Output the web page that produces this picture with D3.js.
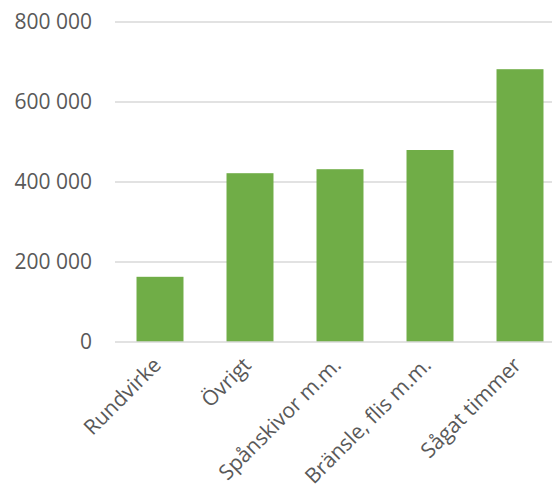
<!DOCTYPE html>
<html>
<head>
<meta charset="utf-8">
<script src="https://cdn.jsdelivr.net/npm/d3@7"></script>
<style>
  html, body { margin: 0; padding: 0; background: #fff; }
  svg { display: block; }
  text { font-family: "Open Sans", "Noto Sans", sans-serif; fill: #595959; }
</style>
</head>
<body>
<svg id="chart" width="552" height="492"></svg>
<script>
// Volumes per product category
const categories = ["Rundvirke", "Övrigt", "Spånskivor m.m.", "Bränsle, flis m.m.", "Sågat timmer"];
const values = [163000, 422000, 432000, 480000, 682000];
const yTicks = [0, 200000, 400000, 600000, 800000];

const svg = d3.select("#chart");
const W = 552, H = 492;
const plotLeft = 115, plotBottom = 342, plotTop = 22;

const x = d3.scaleBand().domain(categories).range([plotLeft, plotLeft + 450]).paddingInner(0.478).paddingOuter(0.239);
const y = d3.scaleLinear().domain([0, 800000]).range([plotBottom, plotTop]);

const fmt = v => d3.format(",")(v).replace(/,/g, " ");

// Horizontal gridlines
svg.append("g").selectAll("line").data(yTicks.filter(t => t > 0)).join("line")
  .attr("x1", plotLeft).attr("x2", W)
  .attr("y1", d => y(d)).attr("y2", d => y(d))
  .attr("stroke", "#d9d9d9").attr("stroke-width", 1.5);

// Y tick labels
svg.append("g").selectAll("text").data(yTicks).join("text")
  .attr("x", 92).attr("y", d => y(d))
  .attr("dy", "0.35em").attr("text-anchor", "end")
  .attr("font-size", 21)
  .text(fmt);

// Bars
svg.append("g").selectAll("rect").data(categories).join("rect")
  .attr("x", d => x(d))
  .attr("width", x.bandwidth())
  .attr("y", (d, i) => y(values[i]))
  .attr("height", (d, i) => y(0) - y(values[i]))
  .attr("fill", "#70ad47");

// Category axis line
svg.append("line")
  .attr("x1", plotLeft).attr("x2", W)
  .attr("y1", y(0)).attr("y2", y(0))
  .attr("stroke", "#d9d9d9").attr("stroke-width", 1.5);

// Rotated category labels
svg.append("g").selectAll("text").data(categories).join("text")
  .attr("transform", d => {
    const cx = x(d) + x.bandwidth() / 2 - 8;
    return `translate(${cx},${plotBottom + 14}) rotate(-45)`;
  })
  .attr("text-anchor", "end")
  .attr("dy", "0.7em")
  .attr("font-size", 21)
  .text(d => d);
</script>
</body>
</html>
